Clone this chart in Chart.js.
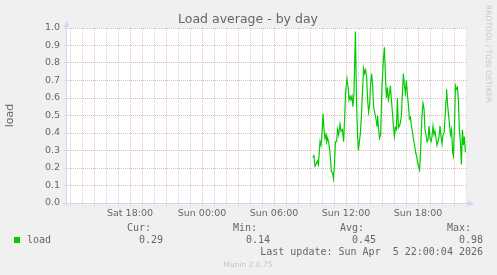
<!DOCTYPE html>
<html><head><meta charset="utf-8">
<script src="https://cdn.jsdelivr.net/npm/chart.js@4"></script>
<style>html,body{margin:0;padding:0;background:#f0f0f0;overflow:hidden}#wrap{position:relative;width:497px;height:275px}canvas{display:block}</style>
</head><body><div id="wrap"><canvas id="c" width="497" height="275"></canvas></div>
<script>
// ---- chart content ----
const chartTitle = 'Load average - by day';
const yAxisTitle = 'load';
const seriesName = 'load';
const xStart = 'Sat 12:45';
const xEnd = 'Sun 22:05';
const xTickLabels = ['Sat 18:00', 'Sun 00:00', 'Sun 06:00', 'Sun 12:00', 'Sun 18:00'];
const yTickLabels = ['0.0', '0.1', '0.2', '0.3', '0.4', '0.5', '0.6', '0.7', '0.8', '0.9', '1.0'];
// sample times (Sunday) and load values
const times = ['09:13','09:20','09:25','09:30','09:37','09:42','09:50','09:55','10:00','10:05','10:10','10:15','10:20','10:23','10:28','10:33','10:40','10:47','10:53','10:57','11:02','11:07','11:13','11:18','11:23','11:30','11:35','11:42','11:48','11:53','11:58','12:05','12:10','12:15','12:20','12:25','12:30','12:35','12:40','12:47','12:53','12:58','13:02','13:07','13:12','13:18','13:23','13:28','13:33','13:38','13:43','13:48','13:53','13:58','14:03','14:08','14:13','14:18','14:23','14:30','14:35','14:38','14:43','14:48','14:53','15:00','15:07','15:12','15:17','15:22','15:27','15:32','15:37','15:42','15:47','15:52','15:57','16:02','16:07','16:12','16:17','16:22','16:27','16:32','16:37','16:42','16:47','16:52','16:57','17:02','17:07','17:12','17:17','17:22','17:27','17:33','17:38','17:43','17:48','17:53','17:58','18:03','18:08','18:13','18:20','18:25','18:30','18:35','18:40','18:45','18:50','18:55','19:00','19:05','19:10','19:15','19:20','19:25','19:30','19:35','19:40','19:45','19:50','19:55','20:00','20:05','20:10','20:15','20:20','20:23','20:28','20:33','20:38','20:43','20:48','20:53','20:57','21:02','21:07','21:12','21:17','21:22','21:27','21:32','21:37','21:42','21:47','21:52','21:57'];
const loadValues = [0.26,0.27,0.21,0.22,0.24,0.22,0.35,0.33,0.40,0.51,0.42,0.37,0.39,0.35,0.37,0.35,0.29,0.18,0.17,0.14,0.21,0.35,0.35,0.42,0.39,0.45,0.41,0.42,0.35,0.48,0.63,0.71,0.67,0.59,0.61,0.59,0.61,0.55,0.63,0.98,0.56,0.38,0.30,0.35,0.40,0.52,0.65,0.77,0.74,0.76,0.72,0.59,0.52,0.56,0.68,0.74,0.67,0.55,0.52,0.48,0.44,0.50,0.42,0.37,0.39,0.67,0.82,0.89,0.73,0.60,0.66,0.59,0.62,0.67,0.59,0.52,0.44,0.38,0.43,0.42,0.60,0.43,0.44,0.46,0.50,0.63,0.74,0.67,0.63,0.70,0.62,0.56,0.48,0.49,0.44,0.40,0.36,0.33,0.29,0.27,0.23,0.21,0.19,0.30,0.50,0.57,0.54,0.42,0.39,0.35,0.36,0.44,0.37,0.35,0.38,0.44,0.39,0.41,0.37,0.33,0.35,0.38,0.44,0.38,0.34,0.39,0.40,0.48,0.59,0.65,0.56,0.50,0.44,0.39,0.42,0.29,0.27,0.42,0.67,0.65,0.66,0.59,0.42,0.35,0.22,0.42,0.33,0.38,0.29];
const statLabels = ['Cur:', 'Min:', 'Avg:', 'Max:'];
const statValues = ['0.29', '0.14', '0.45', '0.98'];
const lastUpdate = 'Last update: Sun Apr  5 22:00:04 2026';
const footerText = 'Munin 2.0.75';
const sideText = 'RRDTOOL / TOBI OETIKER';

// ---- helpers ----
function toMin(s) {
  let day = 0, t = s;
  if (s.indexOf(' ') > 0) { const p = s.split(' '); day = p[0] === 'Sat' ? -1440 : 0; t = p[1]; }
  const hm = t.split(':');
  return day + parseInt(hm[0], 10) * 60 + parseInt(hm[1], 10);
}
const xMin = toMin(xStart), xMax = toMin(xEnd);
const xLabelAt = {};
xTickLabels.forEach(l => { xLabelAt[toMin(l)] = l; });
const yLabelAt = {};
yTickLabels.forEach(l => { yLabelAt[Math.round(parseFloat(l) * 100)] = l; });
const points = times.map((t, i) => ({ x: toMin(t), y: loadValues[i] }));

const RED = 'rgba(226,165,165,0.75)';
const GRAY = 'rgba(200,200,200,0.8)';
const FONT = '#666666';

const muninPlugin = {
  id: 'munin',
  beforeDraw(chart) {
    const { ctx, chartArea: a } = chart;
    ctx.save();
    ctx.fillStyle = '#f0f0f0';
    ctx.fillRect(0, 0, chart.width, chart.height);
    ctx.fillStyle = '#ffffff';
    ctx.fillRect(a.left, a.top, a.right - a.left, a.bottom - a.top);
    ctx.restore();
  },
  afterDraw(chart) {
    const { ctx, chartArea: a } = chart;
    ctx.save();
    // axes with arrows
    ctx.strokeStyle = '#CFD6F8';
    ctx.fillStyle = '#CFD6F8';
    ctx.lineWidth = 1;
    ctx.beginPath();
    ctx.moveTo(a.left - 0.5, a.bottom + 3);
    ctx.lineTo(a.left - 0.5, a.top - 3);
    ctx.moveTo(a.left - 4, a.bottom + 0.5);
    ctx.lineTo(a.right + 2, a.bottom + 0.5);
    ctx.stroke();
    ctx.beginPath();
    ctx.moveTo(a.left - 3.5, a.top - 1);
    ctx.lineTo(a.left + 2.5, a.top - 1);
    ctx.lineTo(a.left - 0.5, a.top - 7);
    ctx.closePath(); ctx.fill();
    ctx.beginPath();
    ctx.moveTo(a.right + 1, a.bottom - 2.5);
    ctx.lineTo(a.right + 1, a.bottom + 3.5);
    ctx.lineTo(a.right + 7, a.bottom + 0.5);
    ctx.closePath(); ctx.fill();

    // title
    ctx.fillStyle = FONT;
    ctx.textBaseline = 'alphabetic';
    ctx.textAlign = 'center';
    ctx.font = '12.5px "DejaVu Sans"';
    ctx.fillText(chartTitle, 248, 23);

    // legend
    ctx.font = '10px "DejaVu Sans Mono"';
    ctx.textAlign = 'left';
    const statX = [127, 233, 340, 447];
    statLabels.forEach((s, i) => ctx.fillText(s, statX[i], 231));
    ctx.fillStyle = '#00cc00';
    ctx.fillRect(14, 237, 6, 6);
    ctx.fillStyle = FONT;
    ctx.fillText(seriesName, 27, 243);
    ctx.textAlign = 'right';
    const valX = [163, 270, 376, 483];
    statValues.forEach((s, i) => ctx.fillText(s, valX[i], 243));
    ctx.fillText(lastUpdate, 483, 255);

    // footer
    ctx.fillStyle = '#c4c4c4';
    ctx.textAlign = 'center';
    ctx.font = '7.5px "DejaVu Sans"';
    ctx.fillText(footerText, 248, 267);

    // side text
    ctx.translate(488, 5);
    ctx.rotate(Math.PI / 2);
    ctx.textAlign = 'left';
    ctx.textBaseline = 'middle';
    ctx.font = '7.6px "DejaVu Sans"';
    ctx.fillStyle = '#c8c8c8';
    ctx.fillText(sideText, 0, 0);
    ctx.restore();
  }
};

new Chart(document.getElementById('c'), {
  type: 'line',
  data: {
    datasets: [{
      label: seriesName,
      data: points,
      borderColor: '#00cc00',
      borderWidth: 1.2,
      pointRadius: 0,
      tension: 0,
      fill: false
    }]
  },
  options: {
    responsive: false,
    animation: false,
    devicePixelRatio: 1,
    layout: { padding: { top: 28, right: 30, left: 0, bottom: 0 } },
    plugins: { legend: { display: false }, title: { display: false }, tooltip: { enabled: false } },
    scales: {
      x: {
        type: 'linear',
        min: xMin,
        max: xMax,
        afterBuildTicks(scale) {
          const ticks = [];
          for (let m = Math.ceil(xMin / 60) * 60; m <= xMax; m += 60) ticks.push({ value: m });
          scale.ticks = ticks;
        },
        afterFit(scale) { scale.height = 72; },
        ticks: {
          autoSkip: false,
          maxRotation: 0,
          padding: 2,
          color: FONT,
          font: { family: 'DejaVu Sans', size: 9.5 },
          callback: (v) => xLabelAt[v] || ''
        },
        grid: {
          color: (c) => (c.tick && ((c.tick.value % 180) + 180) % 180 === 0) ? RED : GRAY,
          tickColor: (c) => (c.tick && ((c.tick.value % 180) + 180) % 180 === 0) ? RED : GRAY,
          lineWidth: 1,
          tickLength: 3,
          tickBorderDash: [1, 1]
        },
        border: { display: false, dash: [1, 1] }
      },
      y: {
        min: 0,
        max: 1,
        afterBuildTicks(scale) {
          const ticks = [];
          for (let k = 0; k <= 20; k++) ticks.push({ value: k * 5 / 100 });
          scale.ticks = ticks;
        },
        afterFit(scale) { scale.width = 67; },
        ticks: {
          padding: 4,
          color: FONT,
          font: { family: 'DejaVu Sans', size: 9.5 },
          callback: (v) => yLabelAt[Math.round(v * 100)] || ''
        },
        grid: {
          color: (c) => (c.tick && Math.round(c.tick.value * 100) % 10 === 0) ? RED : GRAY,
          tickColor: (c) => (c.tick && Math.round(c.tick.value * 100) % 10 === 0) ? RED : GRAY,
          lineWidth: 1,
          tickLength: 3,
          tickBorderDash: [1, 1]
        },
        border: { display: false, dash: [1, 1] },
        title: {
          display: true,
          text: yAxisTitle,
          color: FONT,
          font: { family: 'DejaVu Sans', size: 11 },
          padding: { top: 4, bottom: 0 }
        }
      }
    }
  },
  plugins: [muninPlugin]
});
</script>
</body></html>
